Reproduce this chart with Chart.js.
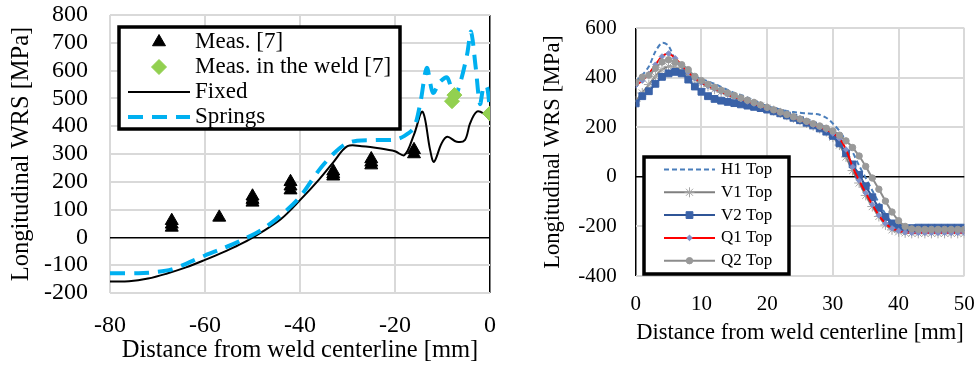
<!DOCTYPE html>
<html>
<head>
<meta charset="utf-8">
<script src="https://cdn.jsdelivr.net/npm/chart.js@4.4.0/dist/chart.umd.min.js"></script>
<style>
    body { margin: 0; background: #fff; }
    #c1 { position: absolute; left: 0; top: 0; }
    #c2 { position: absolute; left: 520px; top: 0; }
</style>
</head>
<body>
<canvas id="c1" width="500" height="368"></canvas>
<canvas id="c2" width="458" height="368"></canvas>
<script>
// left chart: measured vs computed WRS, negative side of the weld
const measX = [-67, -67, -67, -57, -50, -50, -50, -42, -42, -42, -33, -33, -33, -25, -25, -25, -16, -16];
const measY = [60, 47, 36, 72, 148, 136, 126, 200, 184, 170, 238, 228, 220, 282, 270, 260, 315, 300];
const weldX = [-8, -7.5, 0];
const weldY = [490, 512, 446];
const fixedX = [-80, -76, -72, -68, -64, -60, -56, -52, -48, -44, -40, -36, -33, -30, -27, -23, -20, -18, -16, -14.2, -12.6, -11.8, -10.2, -9, -7, -5.3, -4.2, -2.8, -1.4, 0];
const fixedY = [-159, -158, -148, -130, -108, -81, -52, -20, 20, 66, 134, 208, 270, 328, 328, 320, 310, 296, 370, 452, 314, 272, 338, 362, 344, 350, 410, 452, 446, 422];
const springsX = [-80, -74, -70, -67, -64, -60, -56, -52, -48, -44, -40, -36, -33, -30.5, -28, -24, -20, -18, -16, -14.6, -13.3, -12, -10.5, -9, -7.5, -6.2, -4.8, -4, -3, -2.1, -1.3, -0.6, 0];
const springsY = [-129, -129, -124, -115, -95, -65, -38, -8, 28, 80, 146, 242, 300, 335, 348, 350, 352, 365, 395, 490, 610, 520, 560, 575, 505, 560, 660, 740, 610, 480, 545, 540, 450];

// right chart: top surface WRS for five models
const distX = [0, 1, 2, 3, 4, 5, 6, 7, 8, 9, 10, 11, 12, 13, 14, 15, 16, 17, 18, 19, 20, 21, 22, 23, 24, 25, 26, 27, 28, 29, 30, 31, 32, 33, 34, 35, 36, 37, 38, 39, 40, 41, 42, 43, 44, 45, 46, 47, 48, 49, 50];
const h1Top = [385, 410, 445, 505, 540, 528, 470, 440, 420, 405, 395, 385, 375, 362, 350, 338, 330, 320, 308, 296, 286, 278, 271, 265, 261, 258, 256, 254, 250, 238, 215, 185, 145, 100, 45, -5, -55, -105, -150, -185, -205, -215, -218, -218, -218, -218, -218, -218, -218, -218, -218];
const v1Top = [305, 338, 372, 405, 432, 445, 442, 428, 408, 392, 378, 365, 353, 342, 331, 321, 312, 303, 294, 285, 276, 267, 258, 248, 238, 228, 217, 206, 195, 182, 160, 128, 80, 25, -25, -75, -120, -160, -194, -214, -222, -226, -228, -228, -228, -228, -228, -228, -228, -228, -228];
const v2Top = [296, 325, 345, 375, 403, 417, 423, 417, 392, 364, 343, 325, 314, 307, 302, 297, 292, 287, 282, 277, 271, 264, 256, 247, 238, 228, 218, 207, 195, 182, 165, 135, 95, 50, 8, -38, -82, -125, -162, -188, -203, -208, -207, -205, -205, -205, -205, -205, -205, -205, -205];
const q1Top = [368, 388, 415, 452, 485, 497, 478, 450, 423, 398, 380, 366, 354, 343, 332, 322, 313, 304, 295, 286, 277, 268, 259, 249, 240, 230, 220, 210, 200, 190, 175, 155, 110, 40, -15, -65, -112, -155, -188, -208, -218, -224, -226, -226, -226, -226, -226, -226, -226, -226, -226];
const q2Top = [380, 402, 410, 437, 463, 472, 462, 452, 432, 405, 388, 373, 361, 349, 338, 328, 318, 309, 300, 290, 280, 270, 261, 251, 242, 233, 224, 214, 205, 196, 185, 168, 145, 118, 84, 42, -5, -50, -98, -142, -177, -200, -210, -212, -212, -212, -212, -212, -212, -212, -212];

const serif = '"Liberation Serif", "Times New Roman", serif';

function pts(xs, ys) {
    return xs.map((x, i) => ({ x: x, y: ys[i] }));
}

// legend drawn inside the plot with a heavy frame, like the Excel original
const boxLegend = {
    id: 'boxLegend',
    afterDraw(chart, args, o) {
        const ctx = chart.ctx;
        ctx.save();
        ctx.fillStyle = '#fff';
        ctx.fillRect(o.x, o.y, o.w, o.h);
        ctx.lineWidth = 3.5;
        ctx.strokeStyle = '#000';
        ctx.strokeRect(o.x, o.y, o.w, o.h);
        ctx.font = o.size + 'px ' + serif;
        ctx.textBaseline = 'middle';
        chart.data.datasets.forEach((ds, i) => {
            const y = o.y + o.first + i * o.step;
            if (ds.showLine) {
                ctx.beginPath();
                ctx.setLineDash(ds.borderDash || []);
                ctx.lineWidth = ds.borderWidth;
                ctx.strokeStyle = ds.borderColor;
                ctx.moveTo(o.lineFrom, y);
                ctx.lineTo(o.lineTo, y);
                ctx.stroke();
                ctx.setLineDash([]);
            }
            if (ds.pointRadius > 0) {
                ctx.fillStyle = ds.pointBackgroundColor;
                ctx.strokeStyle = ds.pointBorderColor;
                ctx.lineWidth = ds.pointBorderWidth;
                Chart.helpers.drawPoint(ctx, {
                    pointStyle: ds.pointStyle, radius: ds.pointRadius, rotation: 0, borderWidth: ds.pointBorderWidth
                }, (o.lineFrom + o.lineTo) / 2, y);
            }
            ctx.fillStyle = '#000';
            ctx.fillText(ds.label, o.textX, y);
        });
        ctx.restore();
    }
};

function gridColor(c) {
    return c.tick && c.tick.value === 0 ? '#000' : '#d9d9d9';
}
function gridWidth(c) {
    return c.tick && c.tick.value === 0 ? 1.5 : 2;
}
// fixed axis boxes; drop the label overhang padding so layout.padding sets the plot edges
function fitX(h) {
    return s => { s.height = h; s.paddingLeft = 0; s.paddingRight = 0; };
}
function fitY(w) {
    return s => { s.width = w; s.paddingTop = 0; s.paddingBottom = 0; };
}

new Chart(document.getElementById('c1'), {
    type: 'scatter',
    data: {
        datasets: [
            {
                label: 'Meas. [7]', data: pts(measX, measY), order: 1,
                pointStyle: 'triangle', pointRadius: 7.5, pointBackgroundColor: '#000',
                pointBorderColor: '#000', pointBorderWidth: 1
            },
            {
                label: 'Meas. in the weld [7]', data: pts(weldX, weldY), order: 2,
                pointStyle: 'rectRot', pointRadius: 7.5, pointBackgroundColor: '#92d050',
                pointBorderColor: '#92d050', pointBorderWidth: 1
            },
            {
                label: 'Fixed', data: pts(fixedX, fixedY), order: 4, showLine: true,
                borderColor: '#000', borderWidth: 2, pointRadius: 0, tension: 0.35
            },
            {
                label: 'Springs', data: pts(springsX, springsY), order: 3, showLine: true,
                borderColor: '#00b0f0', borderWidth: 4, borderDash: [15, 9], pointRadius: 0, tension: 0.3
            }
        ]
    },
    options: {
        responsive: false,
        animation: false,
        layout: { padding: { top: 15, right: 10, left: 0, bottom: 0 } },
        plugins: {
            legend: { display: false },
            tooltip: { enabled: false },
            boxLegend: { x: 119, y: 27, w: 281, h: 102, first: 15, step: 25, size: 23, lineFrom: 128, lineTo: 190, textX: 195 }
        },
        scales: {
            x: {
                type: 'linear', min: -80, max: 0,
                afterFit: fitX(75),
                ticks: { stepSize: 20, padding: 18, color: '#000', font: { family: serif, size: 24 } },
                grid: { color: gridColor, lineWidth: gridWidth, drawTicks: false },
                border: { display: false },
                title: {
                    display: true, text: 'Distance from weld centerline [mm]', color: '#000',
                    font: { family: serif, size: 24.5 }, padding: { top: 0, bottom: 3 }
                }
            },
            y: {
                min: -200, max: 800,
                afterFit: fitY(110),
                ticks: { stepSize: 100, autoSkip: false, padding: 22, color: '#000', font: { family: serif, size: 24 } },
                grid: { color: gridColor, lineWidth: gridWidth, drawTicks: false },
                border: { display: false },
                title: {
                    display: true, text: 'Longitudinal WRS [MPa]', color: '#000',
                    font: { family: serif, size: 24.5 }, padding: { top: 7, bottom: 0 }
                }
            }
        }
    },
    plugins: [boxLegend]
});

function topSeries(label, values, order, style) {
    return Object.assign({
        label: label, data: pts(distX, values), order: order, showLine: true,
        borderWidth: 2, tension: 0.3
    }, style);
}

new Chart(document.getElementById('c2'), {
    type: 'scatter',
    data: {
        datasets: [
            topSeries('H1 Top', h1Top, 5, {
                borderColor: '#4a7ebb', borderDash: [5, 3], pointRadius: 0
            }),
            topSeries('V1 Top', v1Top, 4, {
                borderColor: '#7f7f7f', pointStyle: 'star', pointRadius: 5,
                pointBackgroundColor: '#a6a6a6', pointBorderColor: '#a6a6a6', pointBorderWidth: 1
            }),
            topSeries('V2 Top', v2Top, 3, {
                borderColor: '#2f5597', pointStyle: 'rect', pointRadius: 4.8,
                pointBackgroundColor: '#3a62a8', pointBorderColor: '#3a62a8', pointBorderWidth: 1
            }),
            topSeries('Q1 Top', q1Top, 2, {
                borderColor: '#ff0000', pointStyle: 'rectRot', pointRadius: 2.8,
                pointBackgroundColor: '#7f8fc8', pointBorderColor: '#7f8fc8', pointBorderWidth: 1
            }),
            topSeries('Q2 Top', q2Top, 1, {
                borderColor: '#8c8c8c', pointStyle: 'circle', pointRadius: 3.2,
                pointBackgroundColor: '#999999', pointBorderColor: '#999999', pointBorderWidth: 1
            })
        ]
    },
    options: {
        responsive: false,
        animation: false,
        layout: { padding: { top: 28, right: 13.7, left: 0, bottom: 0 } },
        plugins: {
            legend: { display: false },
            tooltip: { enabled: false },
            boxLegend: { x: 124, y: 157, w: 145, h: 117, first: 12.5, step: 22.8, size: 17, lineFrom: 144, lineTo: 195, textX: 201 }
        },
        scales: {
            x: {
                type: 'linear', min: 0, max: 50,
                afterFit: fitX(92),
                ticks: { stepSize: 10, padding: 16, color: '#000', font: { family: serif, size: 21 } },
                grid: { color: gridColor, lineWidth: gridWidth, drawTicks: false },
                border: { display: false },
                title: {
                    display: true, text: 'Distance from weld centerline [mm]', color: '#000',
                    font: { family: serif, size: 22.5 }, padding: { top: 0, bottom: 21 }
                }
            },
            y: {
                min: -400, max: 600,
                afterFit: fitY(115.7),
                ticks: { stepSize: 200, autoSkip: false, padding: 19, color: '#000', font: { family: serif, size: 21 } },
                grid: { color: gridColor, lineWidth: gridWidth, drawTicks: false },
                border: { display: false },
                title: {
                    display: true, text: 'Longitudinal WRS [MPa]', color: '#000',
                    font: { family: serif, size: 22.5 }, padding: { top: 20, bottom: 0 }
                }
            }
        }
    },
    plugins: [boxLegend]
});
</script>
</body>
</html>
